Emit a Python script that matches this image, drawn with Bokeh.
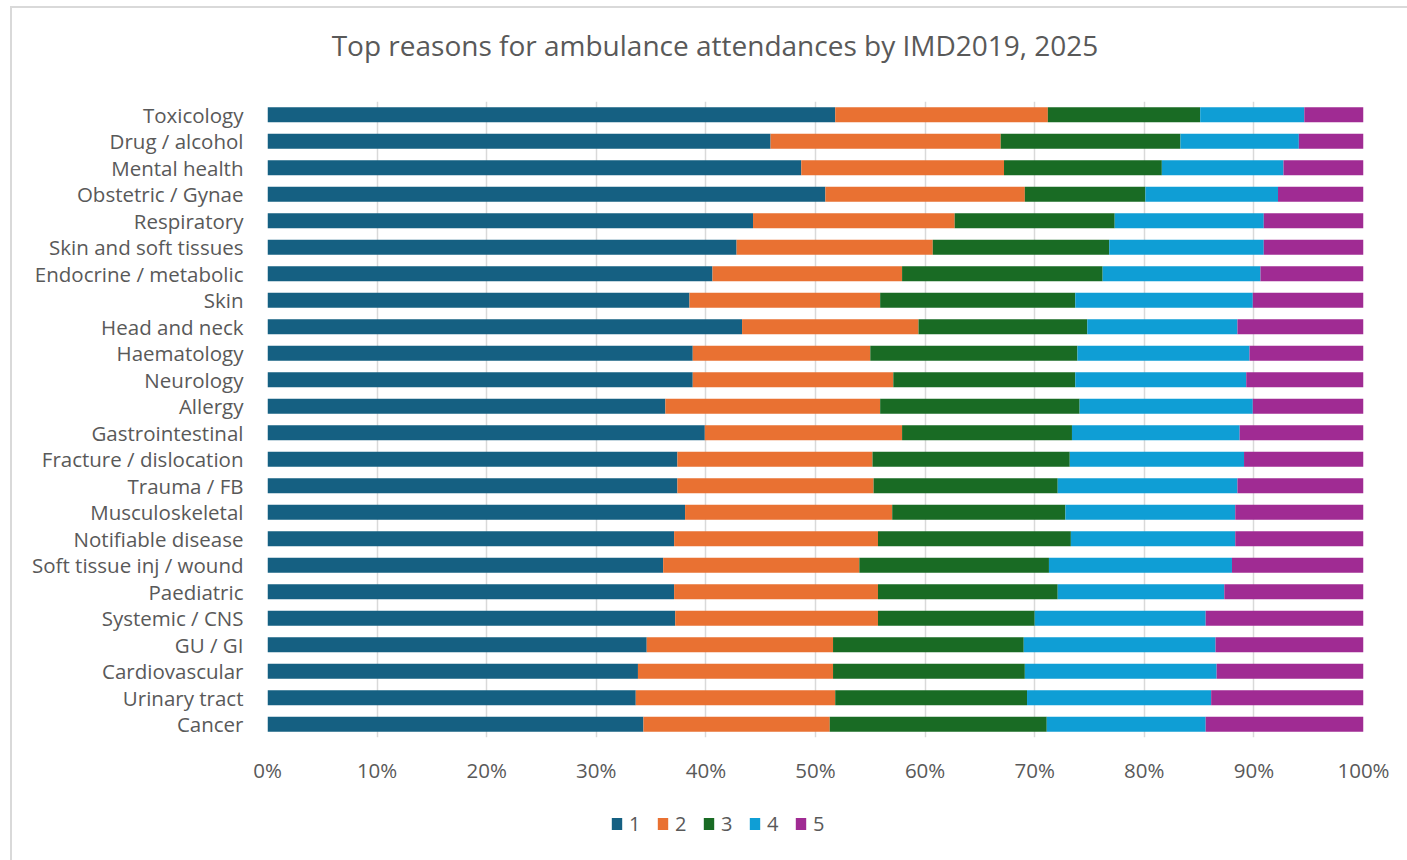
from bokeh.plotting import figure
from bokeh.layouts import column
from bokeh.models import (ColumnDataSource, FactorRange, Range1d, FixedTicker,
                          PrintfTickFormatter, Legend, Div)
from bokeh.embed import file_html
from bokeh.resources import INLINE

# Attendance reasons, top of chart first
categories = [
    "Toxicology", "Drug / alcohol", "Mental health", "Obstetric / Gynae",
    "Respiratory", "Skin and soft tissues", "Endocrine / metabolic", "Skin",
    "Head and neck", "Haematology", "Neurology", "Allergy", "Gastrointestinal",
    "Fracture / dislocation", "Trauma / FB", "Musculoskeletal",
    "Notifiable disease", "Soft tissue inj / wound", "Paediatric",
    "Systemic / CNS", "GU / GI", "Cardiovascular", "Urinary tract", "Cancer",
]

# Share of attendances (%) in each IMD2019 quintile
q1 = [51.8, 45.9, 48.7, 50.9, 44.3, 42.8, 40.6, 38.5, 43.3, 38.8, 38.8, 36.3,
      39.9, 37.4, 37.4, 38.1, 37.1, 36.1, 37.1, 37.2, 34.6, 33.8, 33.6, 34.3]
q2 = [19.4, 21.0, 18.5, 18.2, 18.4, 17.9, 17.3, 17.4, 16.1, 16.2, 18.3, 19.6,
      18.0, 17.8, 17.9, 18.9, 18.6, 17.9, 18.6, 18.5, 17.0, 17.8, 18.2, 17.0]
q3 = [13.9, 16.4, 14.4, 11.0, 14.6, 16.1, 18.3, 17.8, 15.4, 18.9, 16.6, 18.2,
      15.5, 18.0, 16.8, 15.8, 17.6, 17.3, 16.4, 14.3, 17.4, 17.5, 17.5, 19.8]
q4 = [9.5, 10.8, 11.1, 12.1, 13.6, 14.1, 14.4, 16.2, 13.7, 15.7, 15.6, 15.8,
      15.3, 15.9, 16.4, 15.5, 15.0, 16.7, 15.2, 15.6, 17.5, 17.5, 16.8, 14.5]
q5 = [5.4, 5.9, 7.3, 7.8, 9.1, 9.1, 9.4, 10.1, 11.5, 10.4, 10.7, 10.1,
      11.3, 10.9, 11.5, 11.7, 11.7, 12.0, 12.7, 14.4, 13.5, 13.4, 13.9, 14.4]

quintiles = ["1", "2", "3", "4", "5"]
colors = ["#156082", "#E97132", "#196B24", "#0F9ED5", "#A02B93"]
x_ticks = [0, 10, 20, 30, 40, 50, 60, 70, 80, 90, 100]
title_text = "Top reasons for ambulance attendances by IMD2019, 2025"

FONT = "Open Sans"
TEXT = "#595959"
W = 1395
NAN = float("nan")

# Chart title
title = Div(
    text=title_text, width=W, height=66,
    styles={"font-family": FONT, "font-size": "28px", "color": TEXT,
            "text-align": "center", "line-height": "64px",
            "padding-left": "1px", "box-sizing": "border-box"},
)

# Main stacked bar chart
source = ColumnDataSource(dict(cat=categories, q1=q1, q2=q2, q3=q3, q4=q4, q5=q5))

p = figure(
    width=W, height=703,
    y_range=FactorRange(*reversed(categories)),
    x_range=Range1d(0, 100),
    output_backend="svg", toolbar_location=None,
    min_border_left=255, min_border_right=44,
    min_border_top=17, min_border_bottom=50,
)

renderers = p.hbar_stack(["q1", "q2", "q3", "q4", "q5"], y="cat", height=0.56,
                         color=colors, line_color=None, source=source)

p.outline_line_color = None
p.background_fill_color = "white"
p.border_fill_color = "white"

p.xgrid.ticker = FixedTicker(ticks=x_ticks)
p.xgrid.grid_line_color = "#d9d9d9"
p.xgrid.grid_line_width = 1.5
p.ygrid.grid_line_color = None

p.xaxis.ticker = FixedTicker(ticks=x_ticks)
p.xaxis.formatter = PrintfTickFormatter(format="%d%%")
for ax in (p.xaxis[0], p.yaxis[0]):
    ax.axis_line_color = None
    ax.major_tick_line_color = None
    ax.minor_tick_line_color = None
    ax.major_label_text_font = FONT
    ax.major_label_text_font_size = "20.5px"
    ax.major_label_text_color = TEXT
p.xaxis.major_label_standoff = 12
p.yaxis.major_label_standoff = 18

# Legend strip under the chart; the key glyphs hold a single empty (NaN) row
lg = figure(
    width=W, height=83, x_range=Range1d(0, 1), y_range=Range1d(0, 1),
    output_backend="svg", toolbar_location=None,
    x_axis_location=None, y_axis_location=None, min_border=0,
)
lg.outline_line_color = None
lg.grid.visible = False
keys = [lg.hbar(y=[NAN], left=[NAN], right=[NAN], height=0.5, color=c,
                line_color=None) for c in colors]

legend = Legend(
    items=[(q, [k]) for q, k in zip(quintiles, keys)],
    orientation="horizontal", location=(343, 33),
    label_text_font=FONT, label_text_font_size="20px", label_text_color=TEXT,
    glyph_width=13, glyph_height=15, label_standoff=6, spacing=7,
    padding=0, margin=0, border_line_color=None, background_fill_alpha=0,
)
lg.add_layout(legend, "center")

page = column(title, p, lg, spacing=0)
page.styles = {"margin-left": "10px", "margin-top": "6px",
               "border-left": "2px solid #d9d9d9", "border-top": "2px solid #d9d9d9"}

open("out.html", "w").write(file_html(page, INLINE))
